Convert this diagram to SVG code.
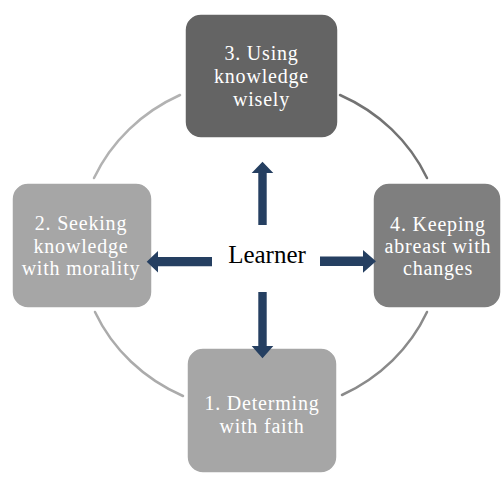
<svg xmlns="http://www.w3.org/2000/svg" width="504" height="477" viewBox="0 0 504 477">
<style>
.box{stroke:#ffffff;stroke-width:1.5}
.lbl{font-family:"Liberation Serif","Times New Roman",serif;font-size:20px;fill:#ffffff;text-anchor:middle;letter-spacing:0.8px}
.arc{fill:none;stroke-width:2.5;stroke-linecap:round}
.arr{fill:#253f61}
</style>
<rect width="504" height="477" fill="#ffffff"/>
<g id="node3">
<rect class="box" x="185" y="14" width="153" height="124" rx="16" fill="#646464"/>
<text class="lbl" x="261.5" y="60">3. Using</text>
<text class="lbl" x="261.5" y="83">knowledge</text>
<text class="lbl" x="261.5" y="106">wisely</text>
</g>
<g id="node2">
<rect class="box" x="12" y="183" width="140" height="125" rx="16" fill="#a6a6a6"/>
<text class="lbl" x="81" y="230">2. Seeking</text>
<text class="lbl" x="81" y="253">knowledge</text>
<text class="lbl" x="81" y="275">with morality</text>
</g>
<g id="node4">
<rect class="box" x="373" y="183" width="128" height="125" rx="16" fill="#7f7f7f"/>
<text class="lbl" x="438" y="231">4. Keeping</text>
<text class="lbl" x="438" y="253">abreast with</text>
<text class="lbl" x="438" y="275">changes</text>
</g>
<g id="node1">
<rect class="box" x="187" y="348" width="150" height="125" rx="16" fill="#a6a6a6"/>
<text class="lbl" x="262" y="410">1. Determing</text>
<text class="lbl" x="262" y="433">with faith</text>
</g>
<g id="learner">
<text x="267" y="263" font-family="'Liberation Serif','Times New Roman',serif" font-size="25" fill="#000000" text-anchor="middle">Learner</text>
</g>
<g id="connectors">
<path class="arc" stroke="#b2b2b2" d="M180 95 A178 167 0 0 0 94 178"/>
<path class="arc" stroke="#737373" d="M340 95 A178 167 0 0 1 427 178"/>
<path class="arc" stroke="#8a8a8a" d="M427 312 A178 167 0 0 1 342 395"/>
<path class="arc" stroke="#ababab" d="M95 312 A178 167 0 0 0 183 396"/>
<path class="arr" d="M258.3 225 V173 H251.7 L262.5 161.7 L273.3 173 H266.7 V225 Z"/>
<path class="arr" d="M258.3 292 V346 H251.7 L262.5 358.3 L273.3 346 H266.7 V292 Z"/>
<path class="arr" d="M212 257 H158 V251 L146.7 261.7 L158 272.5 V266.3 H212 Z"/>
<path class="arr" d="M320 256.5 H363 V250 L376 261.3 L363 272.7 V266 H320 Z"/>
</g>
</svg>
